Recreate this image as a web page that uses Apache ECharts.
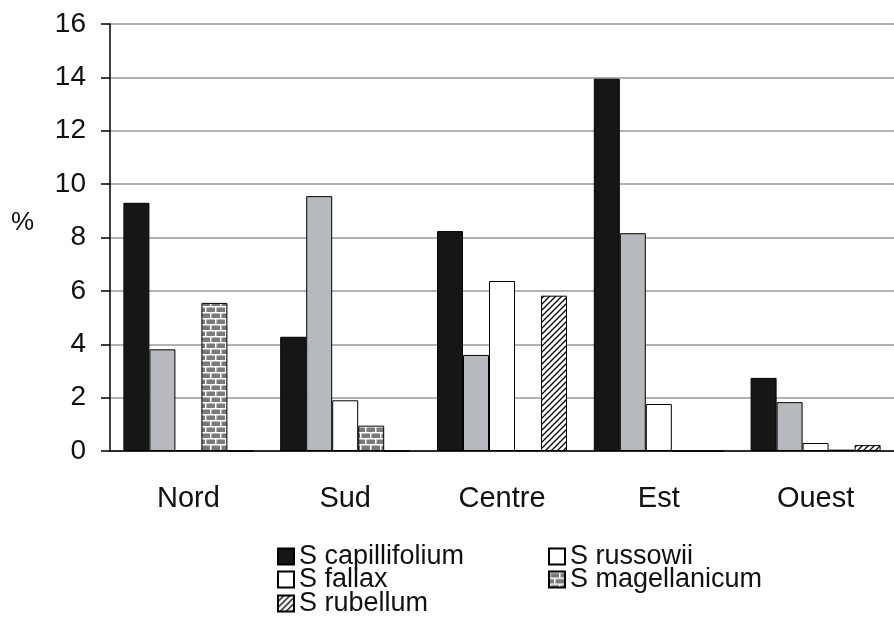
<!DOCTYPE html>
<html>
<head>
<meta charset="utf-8">
<script src="https://cdn.jsdelivr.net/npm/echarts@6/dist/echarts.min.js"></script>
<style>
  html, body { margin: 0; padding: 0; background: #fff; }
  #barChart { width: 894px; height: 622px; }
</style>
</head>
<body>
<div id="barChart"></div>
<script>
const categories = ["Nord", "Sud", "Centre", "Est", "Ouest"];
const capillifolium = [9.3, 4.28, 8.24, 13.95, 2.74];
const russowii = [3.81, 9.55, 3.6, 8.16, 1.83];
const fallax = [0.03, 1.9, 6.37, 1.76, 0.3];
const magellanicum = [5.55, 0.95, 0.03, 0, 0.05];
const rubellum = [0, 0, 5.82, 0, 0.22];
const yTicks = [0, 2, 4, 6, 8, 10, 12, 14, 16];

const font = "'Liberation Sans', Arial, sans-serif";

// brick fill for S magellanicum
function brickPattern() {
  const c = document.createElement("canvas");
  c.width = 10;
  c.height = 12;
  const ctx = c.getContext("2d");
  ctx.fillStyle = "#7a7a7a";
  ctx.fillRect(0, 0, 10, 12);
  ctx.fillStyle = "#ffffff";
  ctx.fillRect(0, 0, 10, 1.5);
  ctx.fillRect(0, 6, 10, 1.5);
  ctx.fillRect(0, 0, 1.5, 6);
  ctx.fillRect(5, 6, 1.5, 6);
  return c;
}

// diagonal hatching for S rubellum
function hatchPattern() {
  const c = document.createElement("canvas");
  c.width = 6;
  c.height = 6;
  const ctx = c.getContext("2d");
  ctx.fillStyle = "#ffffff";
  ctx.fillRect(0, 0, 6, 6);
  ctx.strokeStyle = "#000";
  ctx.lineWidth = 1.3;
  ctx.beginPath();
  ctx.moveTo(-1, 7); ctx.lineTo(7, -1);
  ctx.moveTo(-1, 1); ctx.lineTo(1, -1);
  ctx.moveTo(5, 7); ctx.lineTo(7, 5);
  ctx.stroke();
  return c;
}

const chart = echarts.init(document.getElementById("barChart"));

function bar(name, data, color) {
  return {
    name: name,
    type: "bar",
    data: data,
    barWidth: 26,
    barGap: "0%",
    itemStyle: { color: color, borderColor: "#000", borderWidth: 1 },
  };
}

// one legend per entry so the two-column layout stays fixed
function legendItem(left, top, item) {
  return {
    left: left,
    top: top,
    padding: 0,
    itemWidth: 16,
    itemHeight: 16,
    icon: "rect",
    textStyle: { fontFamily: font, fontSize: 27, color: "#111" },
    data: [item],
  };
}

const option = {
  backgroundColor: "#fff",
  animation: false,
  textStyle: { fontFamily: font },
  grid: { left: 110, right: -7, top: 24, bottom: 171 },
  legend: [
    legendItem(277, 543, "S capillifolium"),
    legendItem(548, 543, { name: "S russowii", itemStyle: { color: "#fff" } }),
    legendItem(277, 566, "S fallax"),
    legendItem(548, 566, "S magellanicum"),
    legendItem(277, 590, "S rubellum"),
  ],
  graphic: [
    {
      type: "text",
      left: 11,
      top: 210,
      style: { text: "%", font: "26px " + font, fill: "#111" },
    },
  ],
  xAxis: {
    type: "category",
    data: categories,
    axisLine: { lineStyle: { color: "#000", width: 1.5 } },
    axisTick: { length: 9, lineStyle: { color: "#000", width: 1.5 } },
    axisLabel: { fontSize: 29, color: "#111", margin: 33, fontFamily: font },
  },
  yAxis: {
    type: "value",
    min: yTicks[0],
    max: yTicks[yTicks.length - 1],
    interval: 2,
    axisLine: { show: true, lineStyle: { color: "#000", width: 1.5 } },
    axisTick: { show: true, length: 9, lineStyle: { color: "#000", width: 1.5 } },
    axisLabel: { fontSize: 28, color: "#111", margin: 24, fontFamily: font },
    splitLine: { lineStyle: { color: "#999", width: 1.5 } },
  },
  series: [
    bar("S capillifolium", capillifolium, "#161616"),
    bar("S russowii", russowii, "#b6babe"),
    bar("S fallax", fallax, "#ffffff"),
    bar("S magellanicum", magellanicum, { image: brickPattern(), repeat: "repeat" }),
    bar("S rubellum", rubellum, { image: hatchPattern(), repeat: "repeat" }),
  ],
};

chart.setOption(option);
</script>
</body>
</html>
